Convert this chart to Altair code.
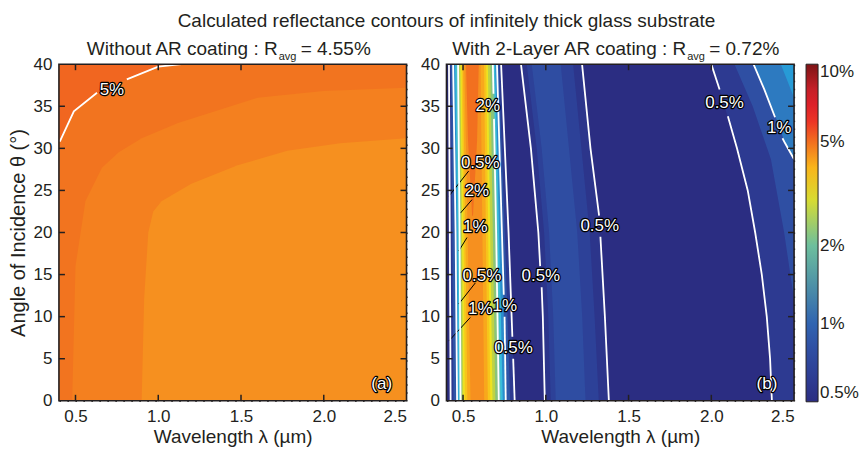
import altair as alt
import pandas as pd

FONT = "Liberation Sans"
INK = "#231f20"
W, H = 348, 337

# ---------------- colour map (reflectance %, colour) ----------------
cmap_values = [0.5, 0.62, 0.8, 1.0, 1.15, 1.3, 1.6, 2.0, 2.5, 3.3, 4.0, 4.6, 5.0, 5.6, 6.5, 8.0, 10.0]
cmap_colors = ["#2b2d82", "#2d3c94", "#2f4fa3", "#3064b1", "#2b8ccc", "#1fb6ea", "#4fc1cf",
               "#6dbf9d", "#a3c95a", "#f2e41d", "#f9b51b", "#f6901f", "#f2701f", "#ef4823",
               "#e8202a", "#c51f28", "#7d1416"]
legend_values = [0.5, 1, 2, 5, 10]

x_ticks = [0.5, 1.0, 1.5, 2.0, 2.5]
y_ticks = [0, 5, 10, 15, 20, 25, 30, 35, 40]
inner_x_ticks = [0.5, 1.0, 1.5, 2.0]
inner_y_ticks = [5, 10, 15, 20, 25, 30, 35]

# ---------------- (a) without AR coating ----------------
a_background = 5.15
a_band_values = [4.95, 4.8, 4.6]
a_band_lam = [
    [0.40, 0.41, 0.49, 0.63, 0.72, 0.81, 1.00, 1.14, 2.50],
    [0.48, 0.50, 0.56, 0.66, 0.76, 0.90, 1.12, 1.60, 2.00, 2.50],
    [0.90, 0.915, 0.94, 0.97, 1.02, 1.20, 1.48, 1.78, 2.10, 2.50],
]
a_band_theta = [
    [30.6, 31.0, 34.4, 36.6, 37.4, 38.2, 39.7, 40.0, 40.0],
    [0.0, 16.0, 23.7, 27.7, 29.5, 31.2, 33.0, 36.0, 36.8, 37.2],
    [0.0, 12.0, 20.0, 22.5, 23.7, 25.8, 28.0, 29.7, 30.6, 31.2],
]
a_contours = [
    [(0.405, 30.8), (0.49, 34.4), (0.63, 36.6)],
    [(0.81, 38.2), (1.00, 39.7), (1.14, 40.0)],
]
a_label_text = ["5%", "(a)"]
a_label_lam = [0.72, 2.35]
a_label_theta = [36.9, 2.0]

# ---------------- (b) with 2-layer AR coating ----------------
b_background = 0.5
peak_theta = [0, 20, 40]
peak_fill = [0.6, 0.85, 1.15, 1.45, 1.8, 2.25, 2.75, 3.25, 3.75, 4.2, 4.6]
peak_left = [
    [0.425, 0.420, 0.415],
    [0.442, 0.435, 0.426],
    [0.464, 0.455, 0.440],
    [0.472, 0.465, 0.452],
    [0.479, 0.472, 0.461],
    [0.485, 0.479, 0.470],
    [0.493, 0.487, 0.477],
    [0.501, 0.494, 0.484],
    [0.511, 0.503, 0.491],
    [0.526, 0.514, 0.499],
    [0.545, 0.528, 0.508],
]
peak_right = [
    [0.812, 0.775, 0.730],
    [0.785, 0.752, 0.716],
    [0.758, 0.735, 0.705],
    [0.740, 0.718, 0.694],
    [0.727, 0.708, 0.687],
    [0.716, 0.700, 0.680],
    [0.695, 0.680, 0.664],
    [0.678, 0.664, 0.650],
    [0.665, 0.652, 0.640],
    [0.650, 0.638, 0.627],
    [0.628, 0.617, 0.606],
]
top_peak_theta = [22, 31, 40]
top_peak_left = [0.555, 0.530, 0.518]
top_peak_right = [0.560, 0.585, 0.595]
top_peak_fill = 5.0

mid_theta = [0, 10, 20, 30, 40]
mid_fill = [0.56, 0.66, 0.78]
mid_left = [
    [0.994, 0.982, 0.955, 0.910, 0.850],
    [1.030, 1.015, 0.990, 0.945, 0.885],
    [1.060, 1.045, 1.020, 0.975, 0.915],
]
mid_right = [
    [1.381, 1.357, 1.326, 1.270, 1.219],
    [1.320, 1.295, 1.265, 1.215, 1.165],
    [1.240, 1.220, 1.190, 1.140, 1.090],
]

edge_fill = [0.6, 0.8, 1.08, 1.2]
edge_theta = [
    [0, 5, 10, 15, 20, 25, 30, 35, 40],
    [12, 20, 28.7, 35, 40],
    [28.7, 30.6, 33.4, 37, 40],
    [36, 40],
]
edge_left = [
    [2.366, 2.355, 2.335, 2.305, 2.265, 2.220, 2.155, 2.080, 2.000],
    [2.50, 2.44, 2.36, 2.25, 2.14],
    [2.500, 2.446, 2.395, 2.320, 2.255],
    [2.50, 2.42],
]

b_contours = [
    [(0.425, 0), (0.420, 20), (0.415, 40)],
    [(0.464, 0), (0.455, 20), (0.440, 40)],
    [(0.485, 0), (0.479, 20), (0.470, 40)],
    [(0.716, 0), (0.700, 20), (0.687, 33.5)], [(0.684, 36.5), (0.680, 40)],
    [(0.758, 0), (0.751, 10)], [(0.746, 12.6), (0.735, 20), (0.705, 40)],
    [(0.812, 0), (0.803, 5)], [(0.798, 7.6), (0.775, 20), (0.730, 40)],
    [(0.994, 0), (0.982, 10), (0.975, 13.5)], [(0.966, 16), (0.955, 20), (0.910, 30), (0.850, 40)],
    [(1.381, 0), (1.357, 10), (1.330, 19.5)], [(1.322, 22), (1.270, 30), (1.219, 40)],
    [(2.366, 0), (2.355, 5), (2.335, 10), (2.305, 15), (2.265, 20), (2.220, 25), (2.155, 30), (2.100, 33.8)],
    [(2.050, 37), (2.000, 40)],
    [(2.500, 28.7), (2.446, 30.6), (2.430, 31.2)], [(2.385, 33.7), (2.320, 37), (2.255, 40)],
]
b_label_text = ["2%", "0.5%", "2%", "1%", "0.5%", "1%", "1%", "0.5%", "0.5%", "0.5%", "0.5%", "1%", "(b)"]
b_label_lam = [0.650, 0.604, 0.584, 0.574, 0.614, 0.604, 0.752, 0.805, 0.970, 1.326, 2.080, 2.410, 2.336]
b_label_theta = [35.0, 28.3, 24.9, 20.6, 14.8, 10.9, 11.3, 6.3, 14.8, 20.8, 35.4, 32.4, 2.0]
b_leaders = [
    (0.534, 27.3, 0.414, 24.3),
    (0.554, 23.9, 0.484, 22.3),
    (0.524, 19.4, 0.474, 17.8),
    (0.574, 14.0, 0.474, 11.5),
    (0.544, 9.9, 0.414, 7.1),
]

title_main = "Calculated reflectance contours of infinitely thick glass substrate"
title_a = ["Without AR coating : R", "avg", "= 4.55%"]
title_b = ["With 2-Layer AR coating : R", "avg", "= 0.72%"]

# ---------------- tables ----------------
def band_rows_vertical():
    rows = []
    for k, (lams, ths) in enumerate(zip(a_band_lam, a_band_theta)):
        for lam, th in zip(lams, ths):
            rows.append({"band": f"a{k}", "lam": lam, "theta": th, "base": 0.0, "R": a_band_values[k]})
    return pd.DataFrame(rows)


def band_rows_horizontal():
    rows = []
    k = 0
    for lefts, rights, f in zip(peak_left, peak_right, peak_fill):
        for th, l, r in zip(peak_theta, lefts, rights):
            rows.append({"band": f"b{k:02d}", "theta": th, "left": l, "right": r, "R": f})
        k += 1
    for th, l, r in zip(top_peak_theta, top_peak_left, top_peak_right):
        rows.append({"band": f"b{k:02d}", "theta": th, "left": l, "right": r, "R": top_peak_fill})
    k += 1
    for lefts, rights, f in zip(mid_left, mid_right, mid_fill):
        for th, l, r in zip(mid_theta, lefts, rights):
            rows.append({"band": f"b{k:02d}", "theta": th, "left": l, "right": r, "R": f})
        k += 1
    for ths, lefts, f in zip(edge_theta, edge_left, edge_fill):
        for th, l in zip(ths, lefts):
            rows.append({"band": f"b{k:02d}", "theta": th, "left": l, "right": 2.5, "R": f})
        k += 1
    return pd.DataFrame(rows)


def contour_rows(segs):
    rows = []
    for s, seg in enumerate(segs):
        for i, (lam, th) in enumerate(seg):
            rows.append({"seg": f"s{s:02d}", "i": i, "lam": lam, "theta": th})
    return pd.DataFrame(rows)


# ---------------- scales / helpers ----------------
xscale = alt.Scale(domain=[0.4, 2.5], nice=False, zero=False)
yscale = alt.Scale(domain=[0, 40], nice=False, zero=False)
cscale = alt.Scale(type="log", domain=cmap_values, range=cmap_colors, clamp=True, interpolate="rgb")

x_axis = alt.Axis(values=x_ticks, format=".1f", title="Wavelength λ (µm)")
y_axis_a = alt.Axis(values=y_ticks, title="Angle of Incidence θ (°)")
y_axis_b = alt.Axis(values=y_ticks, title=None)

legend_b = alt.Legend(title=None, values=legend_values, labelExpr="datum.value + '%'",
                      gradientLength=338, gradientThickness=12, orient="right", direction="vertical",
                      labelOverlap=False)


def X(f):
    return alt.X(f"{f}:Q", scale=xscale, axis=x_axis)


def Yf(f, ax):
    return alt.Y(f"{f}:Q", scale=yscale, axis=ax)


def color(legend):
    if legend is None:
        return alt.Color("R:Q", scale=cscale, legend=None)
    return alt.Color("R:Q", scale=cscale, legend=legend)


def common_layers(ax, contours, lab_text, lab_lam, lab_theta, title_parts, title_x):
    layers = []
    cdf = contour_rows(contours)
    layers.append(alt.Chart(cdf).mark_line(color="white", strokeWidth=1.8, clip=True).encode(
        x=X("lam"), y=Yf("theta", ax), detail="seg:N", order="i:Q"))
    ldf = pd.DataFrame({"t": lab_text, "lam": lab_lam, "theta": lab_theta})
    layers.append(alt.Chart(ldf).mark_text(font=FONT, fontSize=17, color="black", stroke="black",
                                           strokeWidth=2.4, strokeJoin="round", baseline="middle").encode(
        x=X("lam"), y=Yf("theta", ax), text="t:N"))
    layers.append(alt.Chart(ldf).mark_text(font=FONT, fontSize=17, color="white", baseline="middle").encode(
        x=X("lam"), y=Yf("theta", ax), text="t:N"))
    # inward ticks
    xt = pd.DataFrame({"t": inner_x_ticks})
    yt = pd.DataFrame({"t": inner_y_ticks})
    layers.append(alt.Chart(xt).mark_rule(color=INK, strokeWidth=1.5).encode(
        x=X("t"), y=alt.value(H), y2=alt.value(H - 6)))
    layers.append(alt.Chart(xt).mark_rule(color=INK, strokeWidth=1.5).encode(
        x=X("t"), y=alt.value(0), y2=alt.value(6)))
    layers.append(alt.Chart(yt).mark_rule(color=INK, strokeWidth=1.5).encode(
        y=Yf("t", ax), x=alt.value(0), x2=alt.value(6)))
    layers.append(alt.Chart(yt).mark_rule(color=INK, strokeWidth=1.5).encode(
        y=Yf("t", ax), x=alt.value(W - 6), x2=alt.value(W)))
    # frame
    fdf = pd.DataFrame({"k": [0]})
    layers.append(alt.Chart(fdf).mark_rect(fillOpacity=0, stroke=INK, strokeWidth=1.6).encode(
        x=alt.value(0), x2=alt.value(W), y=alt.value(0), y2=alt.value(H)))
    # panel title with subscript
    tdf = pd.DataFrame({"k": [0]})
    layers.append(alt.Chart(tdf).mark_text(font=FONT, fontSize=19, color=INK, align="right",
                                           baseline="alphabetic").encode(
        x=alt.value(title_x), y=alt.value(-9), text=alt.value(title_parts[0])))
    layers.append(alt.Chart(tdf).mark_text(font=FONT, fontSize=11, color=INK, align="left",
                                           baseline="alphabetic").encode(
        x=alt.value(title_x + 1), y=alt.value(-4), text=alt.value(title_parts[1])))
    layers.append(alt.Chart(tdf).mark_text(font=FONT, fontSize=19, color=INK, align="left",
                                           baseline="alphabetic").encode(
        x=alt.value(title_x + 23), y=alt.value(-9), text=alt.value(title_parts[2])))
    return layers


# ---------------- panel (a) ----------------
bg_a = pd.DataFrame({"x": [0.4], "x2": [2.5], "y": [0.0], "y2": [40.0], "R": [a_background]})
layers_a = [
    alt.Chart(bg_a).mark_rect().encode(x=X("x"), x2="x2", y=Yf("y", y_axis_a), y2="y2", color=color(None)),
    alt.Chart(band_rows_vertical()).mark_area(clip=True, orient="vertical").encode(
        x=X("lam"), y=Yf("theta", y_axis_a), y2="base", color=color(None), detail="band:N"),
]
layers_a += common_layers(y_axis_a, a_contours, a_label_text, a_label_lam, a_label_theta, title_a, 219)
panel_a = alt.layer(*layers_a).properties(width=W, height=H)

# ---------------- panel (b) ----------------
bg_b = pd.DataFrame({"x": [0.4], "x2": [2.5], "y": [0.0], "y2": [40.0], "R": [b_background]})
lead_df = pd.DataFrame(b_leaders, columns=["lam", "theta", "lam2", "theta2"])
layers_b = [
    alt.Chart(bg_b).mark_rect().encode(x=X("x"), x2="x2", y=Yf("y", y_axis_b), y2="y2", color=color(legend_b)),
    alt.Chart(band_rows_horizontal()).mark_area(clip=True, orient="horizontal").encode(
        y=Yf("theta", y_axis_b), x=X("left"), x2="right", color=color(legend_b), detail="band:N"),
    alt.Chart(lead_df).mark_rule(color="black", strokeWidth=1).encode(
        x=X("lam"), y=Yf("theta", y_axis_b), x2="lam2", y2="theta2"),
]
layers_b += common_layers(y_axis_b, b_contours, b_label_text, b_label_lam, b_label_theta, title_b, 240)
panel_b = alt.layer(*layers_b).properties(width=W, height=H)

chart = alt.hconcat(panel_a, panel_b, spacing=13).resolve_scale(color="independent").properties(
    title=alt.TitleParams(text=title_main, font=FONT, fontSize=19, fontWeight="normal", color=INK,
                          anchor="middle", offset=9, dx=13),
    padding={"left": 0, "top": 4, "right": 0, "bottom": 0},
).configure_view(stroke=None).configure_axis(
    labelFont=FONT, labelFontSize=17, labelColor=INK, titleFont=FONT, titleFontSize=19,
    titleFontWeight="normal", titleColor=INK, ticks=False, domain=False, grid=True,
    gridColor="black", gridDash=[1.5, 6.5], gridWidth=1.2, gridOpacity=0.8, zindex=1,
).configure_axisX(labelPadding=8, titlePadding=3).configure_axisY(
    labelPadding=7, titlePadding=5, titleFontSize=20
).configure_legend(
    labelFont=FONT, labelFontSize=17, labelColor=INK, offset=12, padding=0, labelOffset=5,
    gradientStrokeColor=INK, gradientStrokeWidth=1,
)

chart.save("out.html", embed_options={"renderer": "svg", "actions": False})
